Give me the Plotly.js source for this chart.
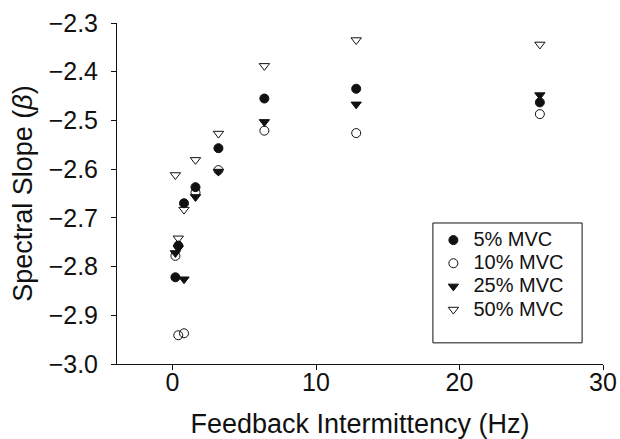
<!DOCTYPE html>
<html>
<head>
<meta charset="utf-8">
<script src="https://cdn.plot.ly/plotly-3.0.1.min.js"></script>
<style>
  html, body { margin: 0; padding: 0; background: #fff; }
  #chart { width: 620px; height: 439px; }
</style>
</head>
<body>
<div id="chart"></div>
<script>
// Feedback intermittency (Hz) at which each condition was tested
const freqs = [0.2, 0.4, 0.8, 1.6, 3.2, 6.4, 12.8, 25.6];

// Spectral slope (beta) for each force level
const mvc5  = [-2.822, -2.757, -2.670, -2.637, -2.557, -2.455, -2.435, -2.463];
const mvc10 = [-2.778, -2.941, -2.937, -2.648, -2.602, -2.521, -2.526, -2.487];
const mvc25 = [-2.772, -2.762, -2.826, -2.657, -2.605, -2.503, -2.467, -2.448];
const mvc50 = [-2.612, -2.742, -2.683, -2.581, -2.527, -2.388, -2.335, -2.344];

const seriesNames = ['5% MVC', '10% MVC', '25% MVC', '50% MVC'];
const xTicks = [0, 10, 20, 30];
const yTicks = [-3.0, -2.9, -2.8, -2.7, -2.6, -2.5, -2.4, -2.3];

const FONT = 'Liberation Sans, Arial, Helvetica, sans-serif';
const INK = '#111';

function series(name, y, symbol) {
  return {
    type: 'scatter',
    mode: 'markers',
    // larger label text inside a tighter legend row
    name: '<span style="font-size:20px">' + name + '</span>',
    x: freqs,
    y: y,
    marker: {
      symbol: symbol,
      size: 9,
      color: INK,
      line: { color: INK, width: 1 }
    },
    hoverinfo: 'x+y'
  };
}

const data = [
  series(seriesNames[0], mvc5, 'circle'),
  series(seriesNames[1], mvc10, 'circle-open'),
  series(seriesNames[2], mvc25, 'triangle-down'),
  series(seriesNames[3], mvc50, 'triangle-down-open')
];

const layout = {
  width: 620,
  height: 439,
  margin: { l: 117, r: 17, t: 23, b: 75, pad: 0 },
  paper_bgcolor: '#fff',
  plot_bgcolor: '#fff',
  font: { family: FONT, color: INK },
  showlegend: true,
  legend: {
    x: 0.651, xanchor: 'left',
    y: 0.412, yanchor: 'top',
    bgcolor: 'rgba(0,0,0,0)',
    borderwidth: 0,
    font: { family: FONT, size: 15.5, color: INK },
    itemwidth: 30,
    tracegroupgap: 0
  },
  // frame around the legend entries
  shapes: [{
    type: 'rect',
    xref: 'paper', yref: 'paper',
    x0: 0.650, x1: 0.957,
    y0: 0.062, y1: 0.4135,
    line: { color: INK, width: 1 },
    fillcolor: 'rgba(0,0,0,0)',
    layer: 'above'
  }],
  xaxis: {
    range: [-3.87, 30],
    tickmode: 'array',
    tickvals: xTicks,
    ticktext: xTicks.map(String),
    ticks: 'outside',
    ticklen: 5,
    tickwidth: 1,
    tickcolor: INK,
    ticklabelstandoff: -9,
    showline: true,
    linecolor: INK,
    linewidth: 1,
    showgrid: false,
    zeroline: false,
    tickfont: { family: FONT, size: 25, color: INK },
    title: {
      text: 'Feedback Intermittency (Hz)',
      font: { family: FONT, size: 27, color: INK },
      standoff: 19
    }
  },
  yaxis: {
    range: [-3.0, -2.3],
    tickmode: 'array',
    tickvals: yTicks,
    ticktext: yTicks.map(v => '\u2212' + Math.abs(v).toFixed(1)),
    ticks: 'outside',
    ticklen: 5,
    tickwidth: 1,
    tickcolor: INK,
    ticklabelstandoff: 8,
    showline: true,
    linecolor: INK,
    linewidth: 1,
    showgrid: false,
    zeroline: false,
    tickfont: { family: FONT, size: 25, color: INK },
    title: {
      text: 'Spectral Slope (<i>β</i>)',
      font: { family: FONT, size: 27, color: INK },
      standoff: 8
    }
  }
};

Plotly.newPlot('chart', data, layout, { displayModeBar: false, staticPlot: true });
</script>
</body>
</html>
